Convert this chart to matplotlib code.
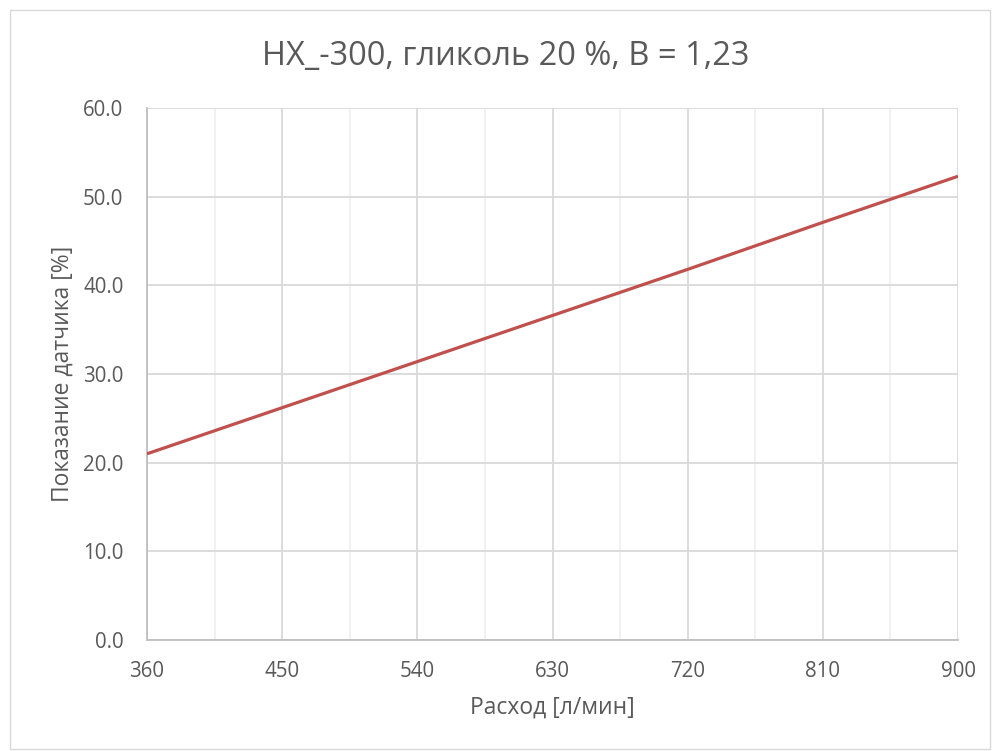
import matplotlib
matplotlib.use('Agg')
from matplotlib import pyplot as plt
from matplotlib.patches import Rectangle
from matplotlib.ticker import MultipleLocator

plt.rcParams['font.family'] = ['Open Sans', 'DejaVu Sans']

# data
flow = [360, 450, 540, 630, 720, 810, 900]
reading = [21.0, 26.2, 31.4, 36.6, 41.8, 47.1, 52.3]

title = 'HX_-300, гликоль 20 %, B = 1,23'
xlabel = 'Расход [л/мин]'
ylabel = 'Показание датчика [%]'

txt = '#595959'

fig = plt.figure(figsize=(9.92, 7.51), dpi=100)
ax = fig.add_axes([147 / 992, 1 - 640 / 751, (958 - 147) / 992, (640 - 108) / 751])

ax.plot(flow, reading, color='#C0504D', lw=2.3, solid_capstyle='butt', zorder=3)

ax.set_xlim(360, 900)
ax.set_ylim(0, 60)
ax.xaxis.set_major_locator(MultipleLocator(90))
ax.xaxis.set_minor_locator(MultipleLocator(45))
ax.yaxis.set_major_locator(MultipleLocator(10))
ax.yaxis.set_major_formatter(lambda v, p: '{:.1f}'.format(v))

ax.grid(which='major', color='#D9D9D9', lw=1.3)
ax.grid(which='minor', axis='x', color='#F0F0F0', lw=1.3)
ax.set_axisbelow(True)

for s in ['top', 'right']:
    ax.spines[s].set_visible(False)
for s in ['left', 'bottom']:
    ax.spines[s].set_color('#BFBFBF')
    ax.spines[s].set_linewidth(1.3)

ax.tick_params(which='both', length=0, colors=txt, labelsize=14.8)
ax.tick_params(axis='y', pad=17)
ax.tick_params(axis='x', pad=15)

ax.set_xlabel(xlabel, fontsize=16.5, color=txt, labelpad=10)
ax.set_ylabel(ylabel, fontsize=16.5, color=txt, labelpad=6)
fig.text(506 / 992, 1 - 57 / 751, title, fontsize=23.5, color=txt,
         ha='center', va='center')

fig.patches.append(Rectangle((10 / 992, 2 / 751), 980 / 992, 739 / 751, transform=fig.transFigure,
                             fill=False, edgecolor='#D9D9D9', lw=1))

plt.savefig('out.png', dpi=100)
